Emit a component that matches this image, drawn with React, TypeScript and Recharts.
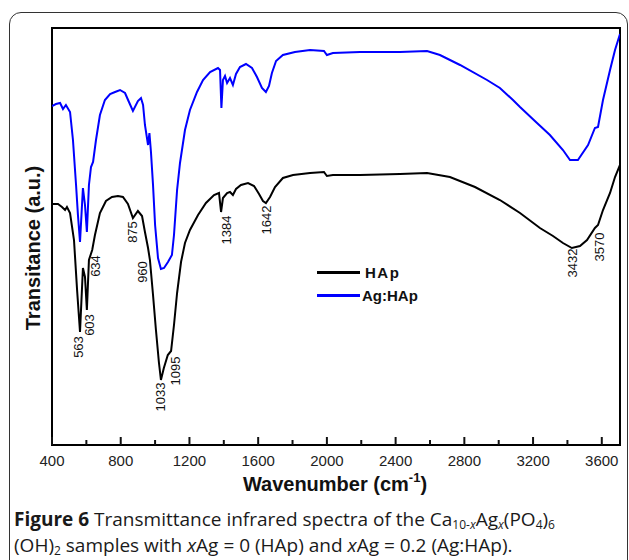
import React from "react";
import { ComposedChart, Line, Scatter, XAxis, YAxis, Legend, ReferenceArea } from "recharts";

// HAp spectrum (wavenumber, transmittance a.u.)
const hapWave = [400, 435, 458, 476, 487, 505, 528, 546, 563, 580, 592, 603, 615, 634, 650, 679, 714, 749, 784, 813, 842, 871, 900, 924, 941, 959, 970, 988, 1005, 1022, 1034, 1051, 1074, 1093, 1110, 1128, 1151, 1174, 1203, 1250, 1296, 1343, 1372, 1384, 1395, 1419, 1436, 1453, 1471, 1500, 1541, 1576, 1605, 1628, 1645, 1669, 1698, 1744, 1803, 1902, 1983, 2000, 2035, 2193, 2425, 2583, 2716, 2862, 3007, 3124, 3240, 3316, 3374, 3426, 3473, 3514, 3560, 3578, 3607, 3648, 3677, 3706];
const hapT = [241, 241, 238, 235, 238, 232, 205, 155, 113, 177, 168, 135, 185, 195, 210, 232, 244, 248, 249, 248, 241, 227, 234, 229, 213, 197, 185, 150, 115, 83, 65, 77, 90, 94, 120, 152, 183, 202, 215, 230, 242, 250, 252, 233, 247, 252, 253, 250, 256, 260, 262, 259, 251, 244, 242, 248, 258, 267, 270, 272, 273, 269, 270, 270, 271, 272, 268, 258, 245, 232, 217, 209, 202, 197, 199, 205, 217, 220, 235, 252, 268, 280];

// Ag:HAp spectrum
const agWave = [400, 423, 447, 464, 481, 505, 522, 540, 551, 563, 580, 592, 603, 615, 627, 639, 656, 679, 708, 738, 767, 796, 825, 848, 871, 900, 918, 930, 941, 959, 967, 976, 988, 1000, 1017, 1034, 1052, 1075, 1098, 1110, 1128, 1145, 1174, 1203, 1244, 1279, 1320, 1366, 1378, 1386, 1395, 1407, 1419, 1436, 1453, 1471, 1494, 1529, 1564, 1593, 1622, 1645, 1663, 1680, 1704, 1744, 1814, 1902, 1983, 2000, 2035, 2193, 2425, 2583, 2658, 2775, 2932, 3007, 3083, 3124, 3223, 3298, 3374, 3415, 3461, 3520, 3560, 3578, 3607, 3648, 3677, 3706];
const agT = [339, 341, 342, 336, 340, 333, 305, 260, 230, 203, 257, 240, 213, 260, 278, 283, 305, 330, 345, 351, 353, 355, 352, 343, 334, 344, 347, 340, 320, 300, 312, 293, 260, 220, 187, 176, 177, 183, 190, 210, 255, 282, 315, 335, 353, 365, 373, 377, 375, 337, 365, 369, 362, 367, 360, 371, 378, 381, 377, 368, 357, 353, 359, 372, 384, 390, 393, 395, 394, 390, 392, 393, 393, 394, 390, 380, 365, 357, 345, 338, 322, 310, 295, 285, 285, 300, 317, 318, 345, 375, 395, 411];

// peak annotations (label text, where the label sits)
const peakLabels = ["563", "603", "634", "875", "960", "1033", "1095", "1384", "1642", "3432", "3570"];
const peakW = [557, 621, 653, 869, 927, 1034, 1116, 1413, 1651, 3432, 3589];
const peakV = [98, 120, 179, 213, 173, 48, 74, 215, 225, 182, 198];

const majorTicks = [400, 800, 1200, 1600, 2000, 2400, 2800, 3200, 3600];
const minorTicks = [600, 1000, 1400, 1800, 2200, 2600, 3000, 3400];

const seriesNames = ["HAp", "Ag:HAp"];
const seriesColors = ["#000000", "#0000ff"];

const X_DOMAIN = [400, 3706];
const Y_DOMAIN = [0, 417];

const hapData = hapWave.map((w, i) => ({ w, v: hapT[i] }));
const agData = agWave.map((w, i) => ({ w, v: agT[i] }));
const peakData = peakLabels.map((label, i) => ({ w: peakW[i], v: peakV[i], label }));
const allTicks = [...majorTicks, ...minorTicks].sort((a, b) => a - b);

const FONT = "'Liberation Sans', Arial, sans-serif";

function WaveTick({ x, y, payload }: any) {
  const major = majorTicks.includes(payload.value);
  return (
    <g>
      <line x1={x} x2={x} y1={y} y2={y - (major ? 8 : 5)} stroke="#111" strokeWidth={2} />
      {major && (
        <text x={x} y={y + 21} textAnchor="middle" fontSize={15} fill="#222" fontFamily={FONT}>
          {payload.value}
        </text>
      )}
    </g>
  );
}

function PeakLabel({ cx, cy, payload }: any) {
  return (
    <text
      x={cx}
      y={cy}
      transform={`rotate(-90 ${cx} ${cy})`}
      textAnchor="middle"
      dominantBaseline="central"
      fontSize={13}
      fill="#111"
      fontFamily={FONT}
    >
      {payload.label}
    </text>
  );
}

function LegendBox() {
  return (
    <div style={{ fontFamily: FONT }}>
      {seriesNames.map((name, i) => (
        <div key={name} style={{ display: "flex", alignItems: "center", height: 23 }}>
          <div style={{ width: 43, height: 2.5, background: seriesColors[i], marginRight: i === 0 ? 5 : 2 }} />
          <span style={{ fontWeight: "bold", fontSize: 15, color: "#111", letterSpacing: i === 0 ? 1.5 : 0 }}>
            {name}
          </span>
        </div>
      ))}
    </div>
  );
}

const subStyle: React.CSSProperties = { fontSize: 12, lineHeight: "12px", verticalAlign: "baseline", position: "relative", top: 3 };

export default function App() {
  return (
    <div style={{ position: "relative", width: 629, height: 560, overflow: "hidden", background: "#fff" }}>
      <style>{"body{margin:0}"}</style>
      <div
        style={{
          position: "absolute",
          left: 9,
          top: 12,
          width: 617,
          height: 620,
          border: "1.5px solid #333",
          borderRadius: 12,
        }}
      />
      <div style={{ position: "absolute", left: 0, top: 0 }}>
        <ComposedChart width={629} height={500} margin={{ top: 28, right: 9, bottom: 25, left: 52 }}>
          <XAxis
            dataKey="w"
            type="number"
            domain={X_DOMAIN}
            allowDataOverflow
            ticks={allTicks}
            interval={0}
            height={30}
            tickSize={0}
            tickMargin={0}
            tickLine={false}
            tick={<WaveTick />}
            axisLine={{ stroke: "#000", strokeWidth: 2 }}
            label={{
              content: () => (
                <text x={335} y={491} textAnchor="middle" fontSize={20} fontWeight="bold" fill="#111" fontFamily={FONT}>
                  Wavenumber (cm
                  <tspan fontSize={13} dy={-9}>-1</tspan>
                  <tspan dy={9}>)</tspan>
                </text>
              ),
            }}
          />
          <YAxis type="number" domain={Y_DOMAIN} hide />
          <ReferenceArea
            x1={X_DOMAIN[0]}
            x2={X_DOMAIN[1]}
            y1={Y_DOMAIN[0]}
            y2={Y_DOMAIN[1]}
            fill="none"
            fillOpacity={0}
            stroke="#000"
            strokeWidth={2}
            ifOverflow="visible"
          />
          <Legend
            layout="vertical"
            align="center"
            verticalAlign="middle"
            wrapperStyle={{ left: 317, top: 261, width: 120 }}
            content={<LegendBox />}
          />
          <Line
            data={hapData}
            dataKey="v"
            name={seriesNames[0]}
            stroke={seriesColors[0]}
            strokeWidth={2}
            dot={false}
            type="linear"
            isAnimationActive={false}
          />
          <Line
            data={agData}
            dataKey="v"
            name={seriesNames[1]}
            stroke={seriesColors[1]}
            strokeWidth={2}
            dot={false}
            type="linear"
            isAnimationActive={false}
          />
          <Scatter data={peakData} dataKey="v" legendType="none" shape={<PeakLabel />} isAnimationActive={false} />
        </ComposedChart>
      </div>
      <svg width={60} height={500} style={{ position: "absolute", left: 0, top: 0 }}>
        <text
          x={40}
          y={248}
          transform="rotate(-90 40 248)"
          textAnchor="middle"
          fontSize={20}
          fontWeight="bold"
          fill="#111"
          fontFamily={FONT}
        >
          Transitance (a.u.)
        </text>
      </svg>
      <div
        style={{
          position: "absolute",
          left: 14,
          top: 506,
          width: 615,
          fontFamily: "'Open Sans', sans-serif",
          fontSize: 19,
          lineHeight: "26px",
          color: "#1a1a1a",
          whiteSpace: "nowrap",
        }}
      >
        <div>
          <b>Figure 6</b> Transmittance infrared spectra of the Ca<sub style={subStyle}>10-<i>x</i></sub>Ag
          <sub style={subStyle}><i>x</i></sub>(PO<sub style={subStyle}>4</sub>)<sub style={subStyle}>6</sub>
        </div>
        <div>
          (OH)<sub style={subStyle}>2</sub> samples with <i>x</i>Ag = 0 (HAp) and <i>x</i>Ag = 0.2 (Ag:HAp).
        </div>
      </div>
    </div>
  );
}
